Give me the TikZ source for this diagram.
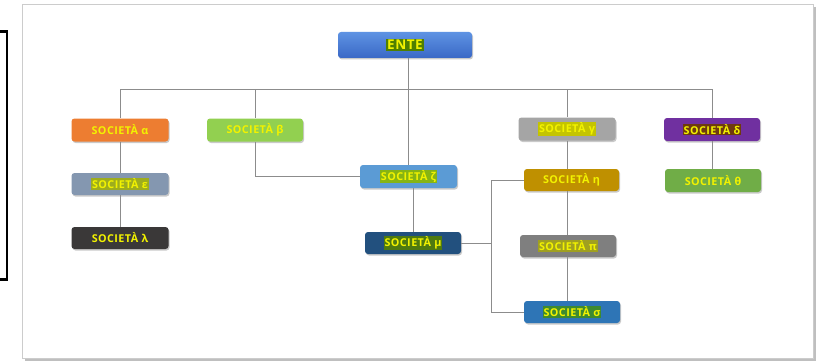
\documentclass[tikz,border=0pt]{standalone}
\usepackage{fontspec}
\setmainfont{Open Sans}[LetterSpace=4]
\usetikzlibrary{shadows}
\definecolor{txt}{HTML}{F2F200}
\definecolor{conn}{HTML}{8C8C8C}
\definecolor{cEnteT}{HTML}{5E93E3}
\definecolor{cEnteB}{HTML}{3A68C6}
\definecolor{cAlpha}{HTML}{ED7D31}
\definecolor{cBeta}{HTML}{92D050}
\definecolor{cGamma}{HTML}{A5A5A5}
\definecolor{cDelta}{HTML}{7030A0}
\definecolor{cEps}{HTML}{8497B0}
\definecolor{cLambda}{HTML}{3A3838}
\definecolor{cZeta}{HTML}{5B9BD5}
\definecolor{cMu}{HTML}{22507E}
\definecolor{cEta}{HTML}{BF9000}
\definecolor{cPi}{HTML}{7F7F7F}
\definecolor{cSigma}{HTML}{2E75B6}
\definecolor{cTheta}{HTML}{70AD47}
\definecolor{hEnte}{HTML}{4F7F00}
\definecolor{hEps}{HTML}{9EAD1E}
\definecolor{hZeta}{HTML}{86B414}
\definecolor{hMu}{HTML}{4E7A10}
\definecolor{hPi}{HTML}{A0A020}
\definecolor{hSigma}{HTML}{3D8A30}
\definecolor{hGamma}{HTML}{C4C400}
\definecolor{hDelta}{HTML}{6E3A10}
\newcommand{\hlt}[2]{{\setlength{\fboxsep}{0.8pt}\colorbox{#1}{#2}}}
\tikzset{
  box/.style={rounded corners=3pt, minimum width=97pt, minimum height=23pt,
    text=txt, font=\bfseries\fontsize{10.8}{12}\selectfont, inner sep=0pt,
    drop shadow={shadow xshift=1pt, shadow yshift=-1.5pt, opacity=0.35, fill=black!60}},
  link/.style={draw=conn, line width=1pt}
}
\begin{document}
\begin{tikzpicture}[x=1pt,y=-1pt]
\useasboundingbox (0,0) rectangle (820,361);
% frames
\fill[black!25] (25,7) rectangle (816,361);
\draw[fill=white, draw=black!20, line width=0.8pt] (22,4) rectangle (813,358);
\draw[black, line width=2.6pt] (-3,31.5) -- (7,31.5) -- (7,279.5) -- (-3,279.5);
% nodes
\node[box, minimum width=134pt, minimum height=26pt, top color=cEnteT, bottom color=cEnteB,
      font=\bfseries\fontsize{13.5}{14}\selectfont] (ente) at (405,45) {\hlt{hEnte}{ENTE}};
\node[box, fill=cAlpha] (alpha) at (120,130) {SOCIETÀ α};
\node[box, fill=cBeta, minimum width=96pt] (beta) at (255,130) {SOCIETÀ β};
\node[box, fill=cGamma] (gamma) at (567,129) {\hlt{hGamma}{SOCIETÀ γ}};
\node[box, fill=cDelta, minimum width=96pt] (delta) at (712,129.5) {\hlt{hDelta}{SOCIETÀ δ}};
\node[box, fill=cEps, minimum height=22pt] (eps) at (120,184) {\hlt{hEps}{SOCIETÀ ε}};
\node[box, fill=cLambda, minimum height=22pt] (lambda) at (120,238) {SOCIETÀ λ};
\node[box, fill=cZeta] (zeta) at (408.5,176.5) {\hlt{hZeta}{SOCIETÀ ζ}};
\node[box, fill=cMu, minimum width=96pt, minimum height=22pt] (mu) at (413,243) {\hlt{hMu}{SOCIETÀ μ}};
\node[box, fill=cEta, minimum width=95pt, minimum height=22pt] (eta) at (571.5,180) {SOCIETÀ η};
\node[box, fill=cPi, minimum width=96pt, minimum height=22pt] (pi) at (568,246) {\hlt{hPi}{SOCIETÀ π}};
\node[box, fill=cSigma, minimum width=96pt, minimum height=22pt] (sigma) at (572,312) {\hlt{hSigma}{SOCIETÀ σ}};
\node[box, fill=cTheta, minimum width=96pt] (theta) at (713,180.5) {SOCIETÀ θ};
% connectors
\coordinate (bus) at (0,90);
\coordinate (fork) at (491,0);
\draw[link] (ente.south -| zeta.north) -- (zeta.north);
\draw[link] (alpha.north) -- (alpha.north |- bus) -- (delta.north |- bus) -- (delta.north);
\draw[link] (beta.north |- bus) -- (beta.north);
\draw[link] (gamma.north |- bus) -- (gamma.north);
\draw[link] (alpha.south) -- (eps.north);
\draw[link] (eps.south) -- (lambda.north);
\draw[link] (beta.south) |- (zeta.west);
\draw[link] (zeta.south -| mu.north) -- (mu.north);
\draw[link] (gamma.south) -- (gamma.south |- eta.north);
\draw[link] (eta.south -| gamma.south) -- (pi.north -| gamma.south);
\draw[link] (pi.south -| gamma.south) -- (sigma.north -| gamma.south);
\draw[link] (delta.south) -- (delta.south |- theta.north);
\draw[link] (mu.east) -- (mu.east -| fork);
\draw[link] (eta.west) -- (eta.west -| fork) -- (sigma.west -| fork) -- (sigma.west);
\end{tikzpicture}
\end{document}
